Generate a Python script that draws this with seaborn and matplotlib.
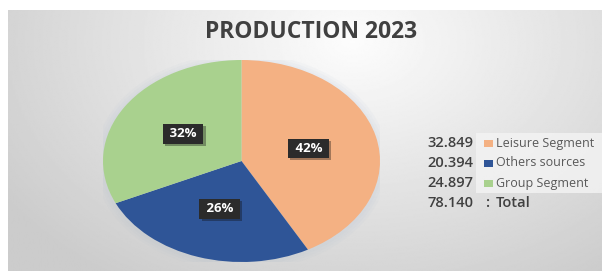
import numpy as np
import matplotlib
matplotlib.use("Agg")
import matplotlib.pyplot as plt
import matplotlib.patheffects as pe
from matplotlib.patches import Rectangle, Ellipse
import seaborn as sns

# data
segments = ["Leisure Segment", "Others sources", "Group Segment"]
production = [32.849, 20.394, 24.897]
total_label = "78.140"
title = "PRODUCTION 2023"

sns.set_theme(style="white")
plt.rcParams['font.family'] = ['Open Sans', 'DejaVu Sans']
palette = sns.color_palette(["#F4B183", "#2F5597", "#A9D18E"])

W, H = 602, 271
fig = plt.figure(figsize=(W / 100, H / 100), dpi=100)
fig.patch.set_facecolor("white")

# gray gradient panel behind the chart
bg = fig.add_axes([8 / W, 0, 1 - 8 / W, (H - 10) / H])
yy, xx = np.mgrid[0:1:200j, 0:1:400j]
dist = np.sqrt(((xx - 0.58) / 0.7) ** 2 + ((yy - 0.12) / 1.1) ** 2)
shade = np.clip(0.99 - 0.19 * dist, 0.8, 1)
bg.imshow(shade, cmap="gray", vmin=0, vmax=1, aspect="auto", interpolation="bilinear")
bg.set_axis_off()

# pie (stretched horizontally as in the original)
ax = fig.add_axes([103 / W, (H - 262) / H, 277 / W, 202 / H])
for k in range(3):
    ax.add_patch(Ellipse((0.0, -0.01), 2.0 + 0.04 * (k + 1), 2.0 + 0.05 * (k + 1),
                         fc="#9fb3cc", ec="none", alpha=0.05, zorder=0))
wedges, texts, autotexts = ax.pie(production, colors=palette, startangle=90, counterclock=False,
                                  autopct=lambda p: " {:.0f}% ".format(p), pctdistance=0.5,
                                  wedgeprops=dict(linewidth=0))
ax.set_aspect("auto")
ax.set_xlim(-1, 1)
ax.set_ylim(-1, 1)
ax.set_axis_off()
for t in autotexts:
    t.set(color="white", fontsize=9.5, fontweight="bold")
    t.set_bbox(dict(boxstyle="square,pad=0.25", fc="#2b2b2b", ec="none"))
    t.get_bbox_patch().set_path_effects([pe.SimplePatchShadow(offset=(1.5, -1.5), alpha=0.35), pe.Normal()])

fig.text(311 / W, 1 - 32 / H, title, ha="center", va="center", fontsize=16.5,
         fontweight="bold", color="#404040")

# legend block with values
fig.patches.append(Rectangle((476 / W, 1 - 193 / H), 126 / W, 60 / H, transform=fig.transFigure,
                             fc="#f4f4f4", ec="none", alpha=0.8))
rows_y = [143, 163, 183, 203]
for i, (name, val) in enumerate(zip(segments, production)):
    y = 1 - rows_y[i] / H
    fig.text(473 / W, y, "{:.3f}".format(val), ha="right", va="center", fontsize=10.5,
             color="#404040", fontweight="semibold")
    fig.patches.append(Rectangle((484 / W, y - 3.5 / H), 9 / W, 7 / H, transform=fig.transFigure,
                                 fc=palette[i], ec="none"))
    fig.text(496 / W, y, name, ha="left", va="center", fontsize=9, color="#595959")
y = 1 - rows_y[3] / H
fig.text(473 / W, y, total_label, ha="right", va="center", fontsize=10.5, color="#404040",
         fontweight="semibold")
fig.text(486 / W, y, ":", ha="left", va="center", fontsize=10.5, color="#404040",
         fontweight="semibold")
fig.text(496 / W, y, "Total", ha="left", va="center", fontsize=10.5, color="#404040",
         fontweight="semibold")

plt.savefig("out.png", dpi=100)
plt.close()
